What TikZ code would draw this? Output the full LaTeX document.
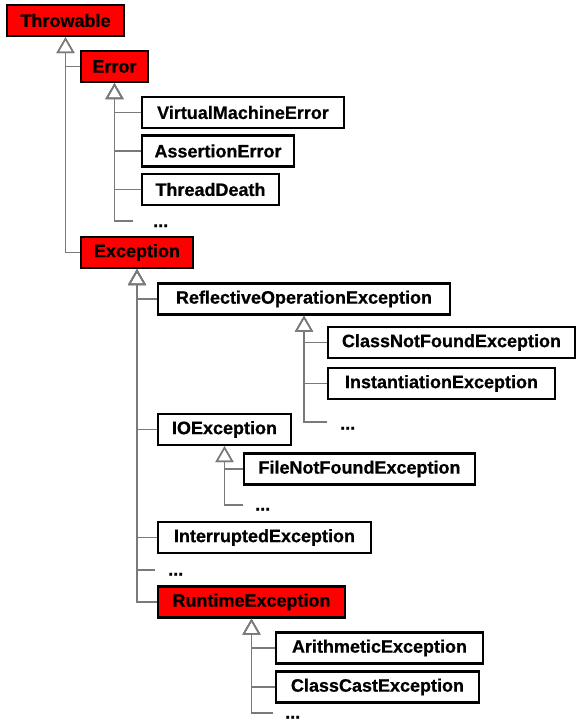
\documentclass[tikz,border=0pt]{standalone}
\usepackage{fontspec}
\setmainfont{Liberation Sans}[BoldFeatures={FakeBold=0.6}]
\usetikzlibrary{arrows.meta}
\definecolor{linegray}{HTML}{7A7A7A}
\tikzset{
  cls/.style={draw=black, line width=2.4pt, fill=white, minimum height=31pt, inner sep=0pt,
    font=\fontsize{18}{20}\selectfont\bfseries},
  core/.style={cls, fill=red},
  dots/.style={anchor=base west, inner sep=0pt, font=\fontsize{18}{20}\selectfont\bfseries},
  inh/.style={draw=linegray, line width=1.8pt, -{Triangle[open, length=16pt, width=18pt, line width=1.5pt]}},
}
\begin{document}
\begin{tikzpicture}[x=1pt,y=-1pt]
\useasboundingbox (0,0) rectangle (582,722);
% boxes
\node[core, minimum width=117pt] (thr) at (65.5,20.5) {Throwable};
\node[core, minimum width=67pt] (err) at (114.5,66.5) {Error};
\node[cls, minimum width=202pt] (vme) at (243,112.5) {VirtualMachineError};
\node[cls, minimum width=152pt] (ase) at (218,151) {AssertionError};
\node[cls, minimum width=137pt] (thd) at (210.5,189.5) {ThreadDeath};
\node[core, minimum width=112pt] (exc) at (137,252.5) {Exception};
\node[cls, minimum width=292pt] (roe) at (304,299) {ReflectiveOperationException};
\node[cls, minimum width=247pt] (cnf) at (451.5,342.5) {ClassNotFoundException};
\node[cls, minimum width=227pt] (ins) at (441.5,383.5) {InstantiationException};
\node[cls, minimum width=133pt] (ioe) at (224.5,429.5) {IOException};
\node[cls, minimum width=231pt] (fnf) at (359.5,469) {FileNotFoundException};
\node[cls, minimum width=213pt] (int) at (264.5,537.5) {InterruptedException};
\node[core, minimum width=187pt] (rte) at (251.5,602) {RuntimeException};
\node[cls, minimum width=207pt] (ari) at (379.5,648) {ArithmeticException};
\node[cls, minimum width=203pt] (cce) at (377.5,687) {ClassCastException};
% dots
\node[dots] (d1) at (153,227) {...};
\node[dots] (d2) at (340,429.5) {...};
\node[dots] (d3) at (255,510.5) {...};
\node[dots] (d4) at (168,575.5) {...};
\node[dots] (d5) at (285,718.5) {...};
\coordinate (e1) at (133,221);
\coordinate (e2) at (327,422);
\coordinate (e3) at (243,505);
\coordinate (e4) at (155,570);
\coordinate (e5) at (273,713);
% connectors
\draw[inh] (err.west) -| (thr.south);
\draw[inh] (exc.west) -| (thr.south);
\draw[inh] (vme.west) -| (err.south);
\draw[inh] (ase.west) -| (err.south);
\draw[inh] (thd.west) -| (err.south);
\draw[inh] (e1) -| (err.south);
\draw[inh] (roe.west) -| (exc.south);
\draw[inh] (ioe.west) -| (exc.south);
\draw[inh] (int.west) -| (exc.south);
\draw[inh] (e4) -| (exc.south);
\draw[inh] (rte.west) -| (exc.south);
\draw[inh] (cnf.west) -| (roe.south);
\draw[inh] (ins.west) -| (roe.south);
\draw[inh] (e2) -| (roe.south);
\draw[inh] (fnf.west) -| (ioe.south);
\draw[inh] (e3) -| (ioe.south);
\draw[inh] (ari.west) -| (rte.south);
\draw[inh] (cce.west) -| (rte.south);
\draw[inh] (e5) -| (rte.south);
\end{tikzpicture}
\end{document}
